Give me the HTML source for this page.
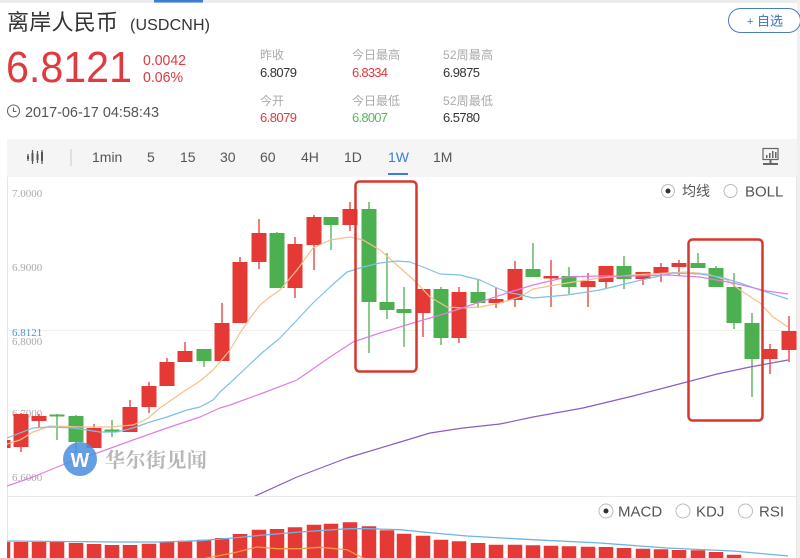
<!DOCTYPE html>
<html>
<head>
<meta charset="utf-8">
<style>
html,body{margin:0;padding:0;background:#fff;}
body{width:800px;height:558px;overflow:hidden;position:relative;}
svg{position:absolute;left:0;top:0;display:block;}
.s{font-family:"Liberation Sans","Noto Sans CJK SC",sans-serif;}
.ax{font-family:"Liberation Serif",serif;font-size:11px;fill:#aaa;}
</style>
</head>
<body>
<svg width="800" height="558" viewBox="0 0 800 558" xmlns="http://www.w3.org/2000/svg">
<defs>
<clipPath id="cm"><rect x="7" y="177" width="790" height="319"/></clipPath>
<clipPath id="cb"><rect x="7" y="497" width="790" height="61"/></clipPath>
</defs>
<rect x="0" y="0" width="800" height="3" fill="#ececec"/>
<rect x="154" y="0" width="49" height="2.5" fill="#3b7dd8"/>
<rect x="797" y="0" width="3" height="558" fill="#f0f0f0"/>

<text class="s" x="7" y="30" font-size="22" fill="#333" textLength="111">离岸人民币</text>
<text class="s" x="130" y="30" font-size="16" fill="#333" textLength="80">(USDCNH)</text>
<text class="s" x="6" y="82" font-size="44" fill="#e0393e" textLength="126" lengthAdjust="spacingAndGlyphs">6.8121</text>
<text class="s" x="143" y="65" font-size="15" fill="#e0393e" textLength="43" lengthAdjust="spacingAndGlyphs">0.0042</text>
<text class="s" x="143" y="82" font-size="15" fill="#e0393e" textLength="40" lengthAdjust="spacingAndGlyphs">0.06%</text>
<circle cx="13.5" cy="111" r="6" fill="none" stroke="#666" stroke-width="1.1"/>
<path d="M13.5 107.5V111.5H16.5" fill="none" stroke="#666" stroke-width="1.1"/>
<text class="s" x="25" y="117" font-size="15" fill="#555" textLength="134" lengthAdjust="spacingAndGlyphs">2017-06-17 04:58:43</text>

<g class="s" font-size="12" fill="#aaa">
<text x="260" y="59">昨收</text>
<text x="352" y="59">今日最高</text>
<text x="443" y="59" textLength="50">52周最高</text>
<text x="260" y="105">今开</text>
<text x="352" y="105">今日最低</text>
<text x="443" y="105" textLength="50">52周最低</text>
</g>
<g class="s" font-size="13" lengthAdjust="spacingAndGlyphs">
<text x="260" y="77" fill="#333" textLength="37">6.8079</text>
<text x="352" y="77" fill="#e0393e" textLength="36">6.8334</text>
<text x="443" y="77" fill="#333" textLength="37">6.9875</text>
<text x="260" y="122" fill="#e0393e" textLength="37">6.8079</text>
<text x="352" y="122" fill="#5cb85c" textLength="36">6.8007</text>
<text x="443" y="122" fill="#333" textLength="37">6.5780</text>
</g>

<rect x="728.5" y="8.5" width="72" height="24" rx="12" fill="#fff" stroke="#4a7cc0" stroke-width="1"/>
<text class="s" x="747" y="25" font-size="11" fill="#3a70c0">+</text>
<text class="s" x="757" y="25.5" font-size="13" fill="#3a70c0">自选</text>

<rect x="7" y="139" width="790" height="38" fill="#f5f5f5"/>
<path d="M28 154V161M32.5 150V164M37.5 151V163M42 150V164" stroke="#555" stroke-width="1.2"/>
<path d="M27 156h2v3h-2zM31.5 153h2v8h-2zM36.5 154h2v6h-2zM41 152h2v9h-2z" fill="#555"/>
<line x1="71" y1="149" x2="71" y2="166" stroke="#ccc" stroke-width="1"/>
<g class="s" font-size="14" fill="#555">
<text x="92" y="162">1min</text>
<text x="147" y="162">5</text>
<text x="180" y="162">15</text>
<text x="220" y="162">30</text>
<text x="260" y="162">60</text>
<text x="301" y="162">4H</text>
<text x="344" y="162">1D</text>
<text x="388" y="162" fill="#3b7dd8">1W</text>
<text x="433" y="162">1M</text>
</g>
<rect x="388" y="173" width="20" height="2" fill="#3b7dd8"/>
<rect x="763" y="148.5" width="15" height="11" fill="none" stroke="#666" stroke-width="1.2"/>
<path d="M766 155h1.5v3h-1.5zM769 153h1.5v5h-1.5zM772 151h1.5v7h-1.5zM775 152h1.5v6h-1.5zM769.5 160h2v3h-2zM763 163h15v2h-15z" fill="#666"/>

<line x1="7.5" y1="177" x2="7.5" y2="558" stroke="#e6e6e6"/>
<line x1="796.5" y1="177" x2="796.5" y2="558" stroke="#e6e6e6"/>
<line x1="7" y1="496.5" x2="797" y2="496.5" stroke="#e8e8e8"/>
<line x1="7" y1="330.5" x2="797" y2="330.5" stroke="#f0f0f0"/>

<text class="ax" x="12" y="197">7.0000</text>
<text class="ax" x="12" y="271">6.9000</text>
<text class="ax" x="12" y="345">6.8000</text>
<text class="ax" x="12" y="417">6.7000</text>
<text class="ax" x="12" y="481">6.6000</text>
<text x="12" y="336" font-family="Liberation Serif,serif" font-size="11" fill="#4a90d9">6.8121</text>

<circle cx="668" cy="191" r="6.5" fill="#fff" stroke="#bbb"/>
<circle cx="668" cy="191" r="2.5" fill="#333"/>
<text class="s" x="682" y="196" font-size="14" fill="#555">均线</text>
<circle cx="730.5" cy="191" r="6.5" fill="#fff" stroke="#bbb"/>
<text class="s" x="745" y="196.5" font-size="15" fill="#555">BOLL</text>

<g clip-path="url(#cm)">
<path stroke="#e53935" stroke-width="1.3" fill="none" d="M3 438V450M21 413V452M39 414V427M94 424V448M130 400V432M149 382V413M167 358V386M185 342V362M222 303V361M240 257V323M259 219V269M295 237V298M314 215V270M350 202V231M423 289V337M459 287V343M496 288V308M515 261V307M551 260V307M588 273V307M606 266V288M643 272V285M661 263V282M679 260V276M770 344V374M789 316V362"/>
<path fill="#e53935" d="M-4.5 440h15v8h-15zM13.5 414h15v33h-15zM31.5 416h15v5h-15zM86.5 428h15v20h-15zM122.5 407h15v25h-15zM141.5 386h15v21h-15zM159.5 362h15v24h-15zM177.5 351h15v11h-15zM214.5 323h15v38h-15zM232.5 262h15v61h-15zM251.5 233h15v29h-15zM287.5 244h15v44h-15zM306.5 217h15v28h-15zM342.5 209h15v16h-15zM415.5 289h15v24h-15zM451.5 292h15v46h-15zM488.5 299h15v4h-15zM507.5 269h15v31h-15zM543.5 276h15v2.5h-15zM580.5 281h15v6h-15zM598.5 266h15v16h-15zM635.5 272h15v7h-15zM653.5 267h15v6h-15zM671.5 263h15v4h-15zM762.5 349h15v10h-15zM781.5 331h15v19h-15z"/>
<path stroke="#4caf50" stroke-width="1.3" fill="none" d="M57 414V440M76 415V453M112 420V437M204 349V367M277 232V288M331 217V250M369 202V353M387 253V319M404 287V347M441 287V345M478 280V308M533 243V277M569 267V294M624 256V289M698 253V268M716 266V287M734 273V329M752 313V397"/>
<path fill="#4caf50" d="M49.5 414.5h15v2h-15zM68.5 416h15v26h-15zM104.5 429.5h15v2h-15zM196.5 349h15v12h-15zM269.5 233h15v55h-15zM323.5 217h15v8h-15zM361.5 209h15v93h-15zM379.5 302h15v8h-15zM396.5 309h15v4h-15zM433.5 289h15v49h-15zM470.5 292h15v11h-15zM525.5 269h15v8h-15zM561.5 276h15v11h-15zM616.5 266h15v13h-15zM690.5 263h15v5h-15zM708.5 268h15v19h-15zM726.5 287h15v36h-15zM744.5 323h15v36h-15z"/>
<g fill="none" stroke-width="1.2" stroke-linejoin="round">
<polyline stroke="#f5c08a" points="7,444 20,440 33,432 50,426 83,427 110,427 133,425 147,419 160,408 180,394 200,381 213,370 220,362 230,350 240,333 250,318 260,305 270,297 280,290 297,270 313,248 330,240 350,237 363,240 380,250 397,265 417,283 430,297 447,307 463,308 480,307 500,303 520,297 533,289 567,283 600,278 633,275 667,273 687,272 707,274 727,280 740,290 760,303 773,317 788,327"/>
<polyline stroke="#7ec0e8" points="7,438 33,428 50,427 73,428 100,432 117,432 133,428 150,422 167,417 187,410 200,407 213,400 220,392 230,383 247,367 263,352 280,338 297,320 313,303 330,287 347,272 363,267 380,263 397,261 410,262 423,267 440,274 460,275 480,280 497,288 510,293 517,294 533,298 567,295 600,290 633,282 650,278 673,273 700,274 720,277 740,283 760,290 788,299"/>
<polyline stroke="#e07ee0" points="7,486 33,477 67,463 100,452 133,440 167,428 200,417 220,408 230,405 263,393 297,380 330,357 353,342 380,333 413,323 447,313 480,302 510,292 533,285 567,277 600,276 633,276 667,275 700,277 733,283 767,291 788,294"/>
<polyline stroke="#8a5cc4" points="253,497 297,477 347,458 397,443 430,433 463,428 500,424 533,417 583,408 633,396 683,383 717,374 750,367 788,360"/>
</g>
<rect x="355.5" y="181.5" width="61" height="190" rx="4" fill="none" stroke="#d9372e" stroke-width="2.5"/>
<rect x="688.5" y="239.5" width="74" height="181" rx="4" fill="none" stroke="#d9372e" stroke-width="2.5"/>
<g opacity="0.85">
<circle cx="80" cy="459" r="17" fill="#4a8fe0"/>
<text x="80" y="467" text-anchor="middle" font-family="Liberation Sans,sans-serif" font-weight="bold" font-size="20" fill="#fff">W</text>
</g>
<text x="105" y="467" font-family="Liberation Serif,'Noto Serif CJK SC',serif" font-weight="bold" font-size="20" fill="#999" opacity="0.7" textLength="102">华尔街见闻</text>
</g>

<g clip-path="url(#cb)">
<path fill="#e53935" d="M-4.25 542h14.5V560h-14.5zM13.75 542h14.5V560h-14.5zM31.75 542h14.5V560h-14.5zM49.75 542h14.5V560h-14.5zM68.75 543h14.5V560h-14.5zM86.75 544h14.5V560h-14.5zM104.75 545h14.5V560h-14.5zM122.75 545h14.5V560h-14.5zM141.75 543.7h14.5V560h-14.5zM159.75 542h14.5V560h-14.5zM177.75 540.7h14.5V560h-14.5zM196.75 539.7h14.5V560h-14.5zM214.75 538h14.5V560h-14.5zM232.75 534h14.5V560h-14.5zM251.75 529.7h14.5V560h-14.5zM269.75 529h14.5V560h-14.5zM287.75 527.3h14.5V560h-14.5zM306.75 524.7h14.5V560h-14.5zM323.75 523.7h14.5V560h-14.5zM342.75 522.3h14.5V560h-14.5zM361.75 526.3h14.5V560h-14.5zM379.75 530.3h14.5V560h-14.5zM396.75 533.7h14.5V560h-14.5zM415.75 535.7h14.5V560h-14.5zM433.75 539.7h14.5V560h-14.5zM451.75 541.3h14.5V560h-14.5zM470.75 543h14.5V560h-14.5zM488.75 544.7h14.5V560h-14.5zM507.75 544.7h14.5V560h-14.5zM525.75 545.3h14.5V560h-14.5zM543.75 545.7h14.5V560h-14.5zM561.75 546.3h14.5V560h-14.5zM580.75 546.7h14.5V560h-14.5zM598.75 547h14.5V560h-14.5zM616.75 548h14.5V560h-14.5zM635.75 548.7h14.5V560h-14.5zM653.75 549.3h14.5V560h-14.5zM671.75 550h14.5V560h-14.5zM690.75 550.3h14.5V560h-14.5zM708.75 552h14.5V560h-14.5zM726.75 554.7h14.5V560h-14.5z"/>
<polyline fill="none" stroke="#6ab4e6" stroke-width="1.3" points="7,541 60,541.5 120,542 160,542 200,540.7 233,538 267,534.7 300,532 333,529.7 350,528.7 367,528.7 400,529.7 433,533 467,536 533,539.7 600,543 667,548 733,551 788,556"/>
<polyline fill="none" stroke="#f0a040" stroke-width="1.3" points="200,560 207,558 233,553 257,547 277,548.7 300,548.7 320,547.3 347,549.7 363,558 367,560"/>
</g>
<circle cx="606" cy="511" r="7" fill="#fff" stroke="#bbb"/>
<circle cx="606" cy="511" r="2.5" fill="#333"/>
<text class="s" x="618" y="516.5" font-size="15" fill="#555">MACD</text>
<circle cx="683" cy="511" r="7" fill="#fff" stroke="#bbb"/>
<text class="s" x="696" y="516.5" font-size="15" fill="#555">KDJ</text>
<circle cx="745.5" cy="511" r="7" fill="#fff" stroke="#bbb"/>
<text class="s" x="759" y="516.5" font-size="15" fill="#555">RSI</text>
</svg>
</body>
</html>
